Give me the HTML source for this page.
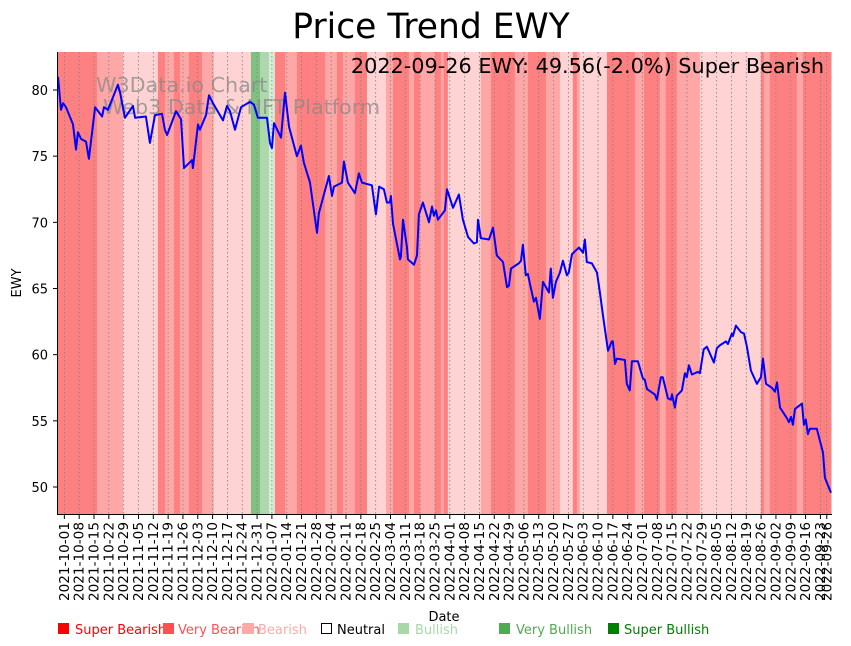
<!DOCTYPE html>
<html><head><meta charset="utf-8"><style>
body{margin:0;background:#fff;}
svg{display:block;font-family:"DejaVu Sans","Liberation Sans",sans-serif;}
</style></head><body>
<svg id="chart" width="851" height="646" viewBox="0 0 851 646" xmlns="http://www.w3.org/2000/svg">
<text x="431" y="38" font-size="34.5" text-anchor="middle">Price Trend EWY</text>
<g id="bands"></g>
<g id="grid"></g>
<text x="96" y="92" font-size="20.7" fill="#888" fill-opacity="0.75">W3Data.io Chart</text>
<text x="103" y="114" font-size="20.7" fill="#888" fill-opacity="0.75">Web3 Data &amp; NFT Platform</text>
<path id="line" fill="none" stroke="#0000ff" stroke-width="2" stroke-linejoin="round"/>
<text x="824" y="73" font-size="20.8" text-anchor="end">2022-09-26 EWY: 49.56(-2.0%) Super Bearish</text>
<line x1="57.5" y1="52" x2="57.5" y2="514.5" stroke="#000" stroke-width="1"/>
<line x1="57" y1="514.5" x2="832" y2="514.5" stroke="#000" stroke-width="1"/>
<g id="yticks"></g>
<g id="xticks"></g>
<text transform="translate(21,283) rotate(-90)" font-size="13" text-anchor="middle">EWY</text>
<text x="444" y="621" font-size="13" text-anchor="middle">Date</text>
<g font-size="13">
<g><rect x="58" y="623" width="11" height="11" fill="#ff0000"/><text x="75" y="634" fill="#ff0000">Super Bearish</text></g>
<g><rect x="163" y="623" width="11" height="11" fill="#ff5050"/><text x="178" y="634" fill="#ff5050">Very Bearish</text></g>
<g><rect x="243" y="623" width="11" height="11" fill="#ffa8a8"/><text x="258" y="634" fill="#ffa8a8">Bearish</text></g>
<g><rect x="321.5" y="623.5" width="10" height="10" fill="#fff" stroke="#000"/><text x="337" y="634" fill="#000">Neutral</text></g>
<g><rect x="398" y="623" width="11" height="11" fill="#a8d8a8"/><text x="415" y="634" fill="#a8d8a8">Bullish</text></g>
<g><rect x="499" y="623" width="11" height="11" fill="#50aa50"/><text x="516" y="634" fill="#50aa50">Very Bullish</text></g>
<g><rect x="608" y="623" width="11" height="11" fill="#008000"/><text x="624" y="634" fill="#008000">Super Bullish</text></g>
</g>
</svg>
<script>
// days since 2021-09-28
const priceDays=[0,1.4,2.4,3.8,7.1,8.5,9.4,10.9,13.2,14.6,17.5,20.8,21.7,23.6,28.3,29.3,31.6,35.4,36.4,41.5,43.4,45.8,49.1,50.5,51.5,55.7,58.1,59.5,63.3,63.7,66.1,67,69.9,71.3,73.2,77.9,79.8,81.2,83.6,86.4,90.6,92.5,94.4,98.7,100.1,101,102,105.3,107.2,109.1,112.8,114.7,116.1,119,122.3,123.2,127.9,129.4,130.3,134.1,135,136.9,140.2,142.1,143.5,148.2,150.1,151.6,153.9,155.3,156.7,157.2,158.2,161.5,161.9,162.9,164.8,165.2,168.1,169.5,170.4,172.3,175.2,176.6,177.5,178.5,179.4,182.7,183.7,186.5,189.3,191.2,193.6,196.4,197.8,198.3,199.7,203.5,205.4,207.2,210.1,212,212.9,213.9,215.7,217.6,218.6,219.5,220.9,221.9,222.8,224.7,225.7,227.5,229,231.8,232.7,233.7,235.1,237,238.4,240.3,241.2,242.7,246,247.9,248.8,249.7,252.1,254.5,255.9,257.3,259.7,261.5,262,263,263.9,267.7,268.6,270,271,273.8,276.2,277.1,278.1,281.8,282.8,284.7,285.6,288,289.4,289.9,291.3,292.2,294.6,296,296.9,297.9,299.3,302.1,303.1,304.9,306.4,309.7,311.1,312.5,315.4,316.3,318.2,318.7,320.1,322.5,323.9,325.3,327.2,330,331.9,332.9,334.3,337.1,338.5,339.5,340.9,344.2,345.1,346.1,347,348,351.3,352.2,353.1,354.1,355,358.3,361.2,362.1,365];
const priceValues=[81.0,78.5,79.0,78.7,77.4,75.5,76.8,76.3,76.1,74.8,78.7,78.0,78.7,78.5,80.4,79.8,77.9,78.8,77.9,78.0,76.0,78.1,78.2,77.0,76.6,78.4,77.8,74.1,74.7,74.1,77.4,77.0,78.1,79.6,79.0,77.7,78.8,78.4,77.0,78.7,79.1,78.9,77.9,77.9,76.0,75.6,77.5,76.4,79.8,77.2,75.0,75.8,74.5,73.0,69.2,70.7,73.5,72.0,72.7,73.0,74.6,73.0,72.2,73.7,73.0,72.8,70.6,72.7,72.5,71.5,71.5,72.0,69.9,67.2,67.4,70.2,68.1,67.2,66.8,67.5,70.6,71.5,70.0,71.2,70.5,70.9,70.2,70.9,72.5,71.1,72.1,70.2,68.9,68.4,68.5,70.2,68.8,68.7,69.6,67.5,67.0,65.1,65.2,66.5,66.7,66.9,67.1,68.3,66.0,66.1,65.4,64.0,64.3,62.7,65.5,64.7,66.5,64.3,65.5,66.2,67.1,66.0,66.2,67.6,68.1,67.7,68.7,67.0,66.9,66.2,64.7,63.0,60.3,61.0,61.0,59.3,59.7,59.6,57.8,57.3,59.5,59.5,58.2,58.1,57.4,57.0,56.6,58.3,58.3,56.7,56.6,57.0,56.0,56.9,57.3,58.6,58.3,59.2,58.5,58.7,58.6,60.4,60.6,59.4,60.5,60.7,61.0,60.8,61.6,61.4,62.2,61.7,61.6,60.6,58.8,57.8,58.3,59.7,57.8,57.5,57.2,57.9,56.0,55.2,54.9,55.3,54.7,55.9,56.3,54.7,55.1,54.0,54.4,54.4,52.6,50.7,49.56];
// sentiment bands: start day and level (3 super bearish ... -3 super bullish)
const bandStarts=[0,18.4,30.7,47.2,50.5,54.8,57.6,61.8,68,73.6,91.1,95.4,99.6,102.4,107.2,112.8,126.1,131.7,134.5,140.2,145.9,154.9,158.2,165.7,168.1,170.9,178,180.8,182.2,184.1,199.7,204.4,215.7,221.9,230.4,237,243.1,245,246.4,259.2,272.4,276.7,284.2,287,292.2,303.1,331.9,333.3,336.1,348.9,351.7];
const bandLevels=[3,2,1,3,2,3,2,3,2,1,-3,-2,-1,3,2,3,2,3,2,3,1,2,3,2,3,2,3,2,3,1,2,3,2,3,2,1,3,2,1,3,2,3,2,3,2,1,3,2,3,2,3];
const yTicks=[50,55,60,65,70,75,80];
const xTickLabels=["2021-10-01","2021-10-08","2021-10-15","2021-10-22","2021-10-29","2021-11-05","2021-11-12","2021-11-19","2021-11-26","2021-12-03","2021-12-10","2021-12-17","2021-12-24","2021-12-31","2022-01-07","2022-01-14","2022-01-21","2022-01-28","2022-02-04","2022-02-11","2022-02-18","2022-02-25","2022-03-04","2022-03-11","2022-03-18","2022-03-25","2022-04-01","2022-04-08","2022-04-15","2022-04-22","2022-04-29","2022-05-06","2022-05-13","2022-05-20","2022-05-27","2022-06-03","2022-06-10","2022-06-17","2022-06-24","2022-07-01","2022-07-08","2022-07-15","2022-07-22","2022-07-29","2022-08-05","2022-08-12","2022-08-19","2022-08-26","2022-09-02","2022-09-09","2022-09-16","2022-09-23","2022-09-26"];

const NS="http://www.w3.org/2000/svg";
const X0=58,X1=831,DMAX=365,Y_TOP=52,Y_BOT=514;
const x=d=>X0+(d/DMAX)*(X1-X0);
const y=v=>90+(80-v)*(397/30);
const base=new Date(Date.UTC(2021,8,28));
const dayOf=s=>(Date.UTC(+s.slice(0,4),+s.slice(5,7)-1,+s.slice(8,10))-base)/86400000;
const colors={"3":"#ff8080","2":"#ffa6a6","1":"#ffd3d3","0":"#ffffff","-1":"#d6ecd6","-2":"#acd8ac","-3":"#80c080"};

const bands=document.getElementById('bands');
for(let i=0;i<bandStarts.length;i++){
  const s=bandStarts[i],e=i+1<bandStarts.length?bandStarts[i+1]:DMAX;
  const r=document.createElementNS(NS,'rect');
  r.setAttribute('x',x(s));r.setAttribute('y',Y_TOP);
  r.setAttribute('width',x(e)-x(s)+0.5);r.setAttribute('height',Y_BOT-Y_TOP);
  r.setAttribute('fill',colors[String(bandLevels[i])]);
  
  
  bands.appendChild(r);
}
const grid=document.getElementById('grid'),xt=document.getElementById('xticks');
xTickLabels.forEach(lab=>{
  const xx=x(dayOf(lab));
  const g=document.createElementNS(NS,'line');
  g.setAttribute('x1',xx);g.setAttribute('x2',xx);g.setAttribute('y1',Y_TOP);g.setAttribute('y2',Y_BOT);
  g.setAttribute('stroke','#808080');g.setAttribute('stroke-width','0.8');g.setAttribute('stroke-dasharray','1.5,2.5');
  
  
  grid.appendChild(g);
  const t=document.createElementNS(NS,'line');
  t.setAttribute('x1',xx);t.setAttribute('x2',xx);t.setAttribute('y1',Y_BOT+1);t.setAttribute('y2',Y_BOT+5);t.setAttribute('stroke','#000');
  
  
  xt.appendChild(t);
  const tx=document.createElementNS(NS,'text');
  tx.setAttribute('transform',`translate(${xx+4.5},${Y_BOT+8}) rotate(-90)`);
  tx.setAttribute('text-anchor','end');tx.setAttribute('font-size','13.6');
  tx.textContent=lab;
  
  
  xt.appendChild(tx);
});
const yt=document.getElementById('yticks');
yTicks.forEach(v=>{
  const yy=y(v);
  const t=document.createElementNS(NS,'line');
  t.setAttribute('x1',53);t.setAttribute('x2',57);t.setAttribute('y1',yy);t.setAttribute('y2',yy);t.setAttribute('stroke','#000');
  
  
  yt.appendChild(t);
  const tx=document.createElementNS(NS,'text');
  tx.setAttribute('x',48);tx.setAttribute('y',yy+5);tx.setAttribute('text-anchor','end');tx.setAttribute('font-size','13');
  tx.textContent=v;
  
  
  yt.appendChild(tx);
});
let d='';
priceDays.forEach((dd,i)=>{d+=(i?'L':'M')+x(dd).toFixed(1)+','+y(priceValues[i]).toFixed(1);});
document.getElementById('line').setAttribute('d',d);
</script>
</body></html>
